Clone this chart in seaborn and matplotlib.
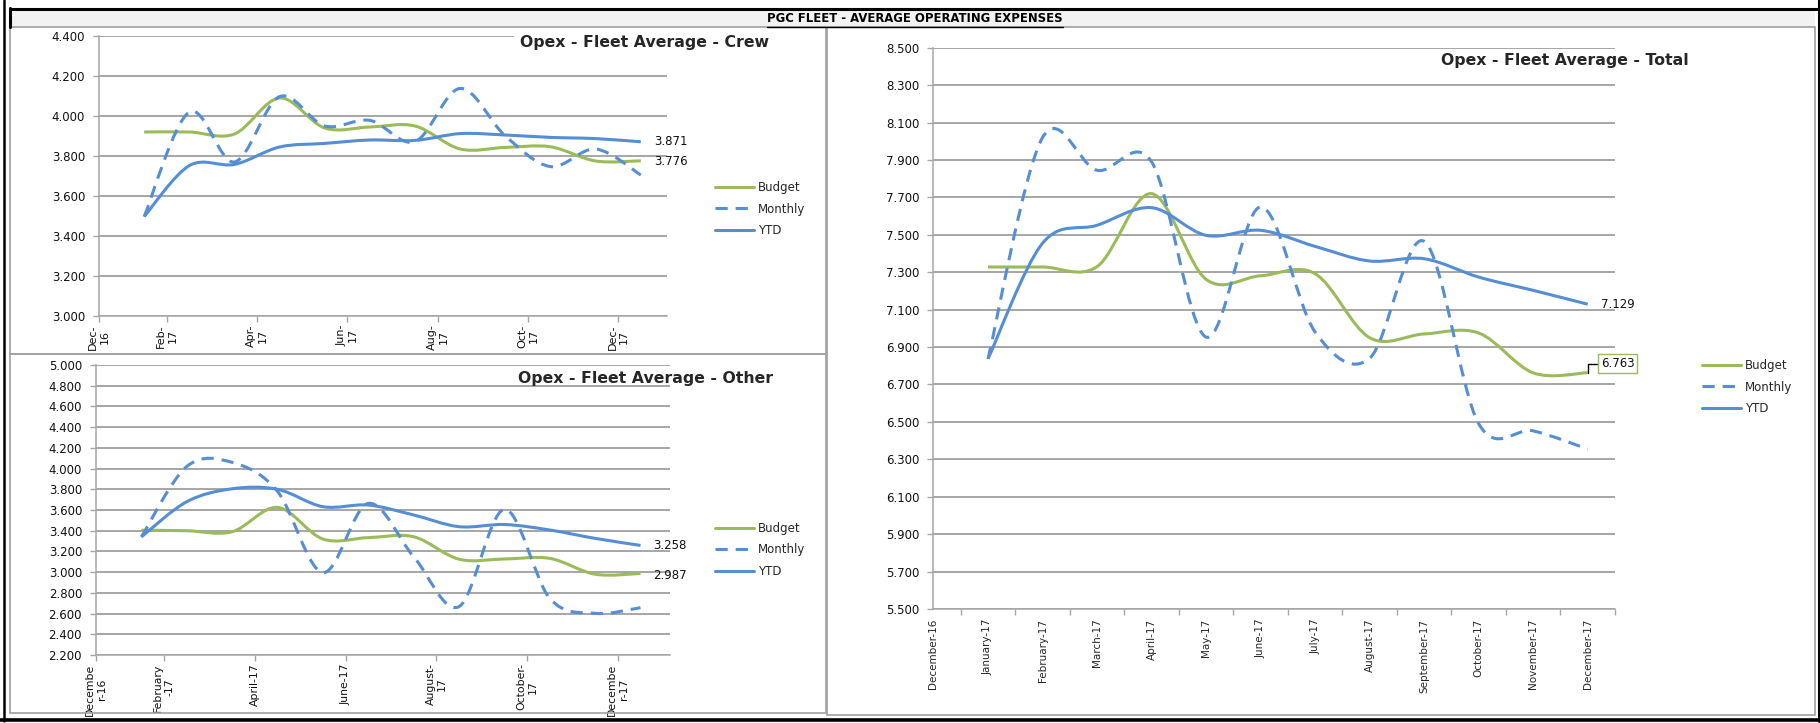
import numpy as np
import pandas as pd
import seaborn as sns
import matplotlib.pyplot as plt
from matplotlib.path import Path
from matplotlib.patches import PathPatch, Rectangle
from matplotlib.lines import Line2D
from matplotlib.transforms import Affine2D

sns.set_style("white")
plt.rcParams["font.family"] = ["DejaVu Sans"]

W, H = 1820, 723

# month index: 0 = December-16, 1..12 = January-17 .. December-17
months = list(range(1, 13))

crew_budget = [3.920, 3.920, 3.910, 4.090, 3.940, 3.945, 3.950, 3.835, 3.843, 3.846, 3.775, 3.776]
crew_monthly = [3.497, 4.020, 3.770, 4.097, 3.950, 3.978, 3.872, 4.138, 3.900, 3.747, 3.835, 3.705]
crew_ytd = [3.497, 3.752, 3.758, 3.845, 3.863, 3.880, 3.878, 3.912, 3.905, 3.893, 3.887, 3.871]

other_budget = [3.405, 3.400, 3.390, 3.625, 3.320, 3.333, 3.342, 3.125, 3.127, 3.133, 2.980, 2.987]
other_monthly = [3.340, 4.020, 4.060, 3.780, 2.995, 3.664, 3.150, 2.667, 3.606, 2.747, 2.602, 2.657]
other_ytd = [3.340, 3.680, 3.805, 3.800, 3.632, 3.648, 3.552, 3.439, 3.460, 3.407, 3.326, 3.258]

total_budget = [7.328, 7.328, 7.330, 7.720, 7.262, 7.281, 7.292, 6.950, 6.970, 6.975, 6.762, 6.763]
total_monthly = [6.837, 8.020, 7.845, 7.890, 6.953, 7.649, 6.980, 6.840, 7.465, 6.490, 6.452, 6.355]
total_ytd = [6.837, 7.455, 7.551, 7.645, 7.497, 7.524, 7.438, 7.360, 7.372, 7.274, 7.203, 7.129]

crew_xlabels = ["Dec-\n16", "Feb-\n17", "Apr-\n17", "Jun-\n17", "Aug-\n17", "Oct-\n17", "Dec-\n17"]
other_xlabels = ["Decembe\nr-16", "February\n-17", "April-17", "June-17", "August-\n17",
                 "October-\n17", "Decembe\nr-17"]
total_xlabels = ["December-16", "January-17", "February-17", "March-17", "April-17", "May-17",
                 "June-17", "July-17", "August-17", "September-17", "October-17",
                 "November-17", "December-17"]
series_names = ["Budget", "Monthly", "YTD"]

GREEN = "#9BBB59"
BLUE = "#558ED5"
GRID = "#A6A6A6"
BORDER = "#A0A0A0"
LW = 2.2
STYLES = {
    "Budget": dict(color=GREEN, linestyle="-"),
    "Monthly": dict(color=BLUE, linestyle=(0, (4, 2.6))),
    "YTD": dict(color=BLUE, linestyle="-"),
}

fig = plt.figure(figsize=(W / 100, H / 100), dpi=100, facecolor="white")
# pixel coordinates, origin top-left
px = Affine2D().scale(1 / W, -1 / H).translate(0, 1) + fig.transFigure


def add_axes_px(left, top, right, bottom):
    return fig.add_axes([left / W, 1 - bottom / H, (right - left) / W, (bottom - top) / H])


def smooth_line(ax, line, style):
    # replace the straight polyline by an Excel-like smoothed bezier through the same points
    pts = line.get_xydata()
    n = len(pts)
    verts = [pts[0]]
    codes = [Path.MOVETO]
    for i in range(n - 1):
        p0, p1 = pts[max(i - 1, 0)], pts[i]
        p2, p3 = pts[i + 1], pts[min(i + 2, n - 1)]
        verts += [p1 + (p2 - p0) / 6, p2 - (p3 - p1) / 6, p2]
        codes += [Path.CURVE4] * 3
    patch = PathPatch(Path(verts, codes), facecolor="none", edgecolor=style["color"],
                      linewidth=LW, linestyle=style["linestyle"], capstyle="butt",
                      joinstyle="round", zorder=line.get_zorder())
    line.remove()
    ax.add_patch(patch)


def draw_series(ax, values):
    df = pd.DataFrame({"month": months, **dict(zip(series_names, values))})
    for name in series_names:
        sns.lineplot(data=df, x="month", y=name, ax=ax, linewidth=LW, **STYLES[name])
        smooth_line(ax, ax.lines[-1], STYLES[name])


def style_axes(ax, ylim, ystep, xsize):
    ax.set_ylim(*ylim)
    ax.set_yticks(np.arange(ylim[0], ylim[1] + ystep / 2, ystep))
    ax.yaxis.set_major_formatter(plt.FuncFormatter(lambda v, p: f"{v:.3f}"))
    ax.yaxis.grid(True, color=GRID, linewidth=1.4)
    ax.xaxis.grid(False)
    ax.set_axisbelow(True)
    for side in ["top", "right"]:
        ax.spines[side].set_visible(False)
    for side in ["left", "bottom"]:
        ax.spines[side].set_color(GRID)
        ax.spines[side].set_linewidth(1.1)
    ax.tick_params(axis="y", left=True, length=4, width=1, color=GRID, pad=6,
                   labelsize=8.5, labelcolor="#111111")
    ax.tick_params(axis="x", bottom=True, length=4, width=1, color=GRID, pad=2,
                   labelsize=xsize, labelcolor="#111111")
    ax.set_xlabel("")
    ax.set_ylabel("")


def add_legend(ax, x, y):
    handles = [Line2D([], [], linewidth=LW, **STYLES[n]) for n in series_names]
    ax.legend(handles, series_names, loc="center left", bbox_to_anchor=(x / W, 1 - y / H),
              bbox_transform=fig.transFigure, frameon=False, fontsize=8.5, handlelength=3.3,
              handletextpad=0.35, labelspacing=0.75, borderpad=0, borderaxespad=0)


def end_label(ax, value, dx=13, dy=0, **kw):
    return ax.annotate(f"{value:.3f}", xy=(months[-1], value), xytext=(dx, dy),
                       textcoords="offset pixels", ha="left", va="center", fontsize=8.5,
                       color="#111111", **kw)


# ---- frames -------------------------------------------------------------
fig.add_artist(Rectangle((10, 9), 1805, 18, transform=px, facecolor="#F2F2F2",
                         edgecolor="none", zorder=0))
for (x0, y0, w, h) in [(10, 27, 816, 327), (10, 354, 816, 359), (827, 27, 988, 688)]:
    fig.add_artist(Rectangle((x0, y0), w, h, transform=px, facecolor="none",
                             edgecolor=BORDER, linewidth=1.2, zorder=1))
for xs, ys, lw in [([10, 1818], [8.5, 8.5], 2.2), ([10, 10], [8, 27], 2.2),
                   ([4, 4], [0, 721], 1.8), ([1818.5, 1818.5], [0, 721], 2.2),
                   ([0, 1820], [719.5, 719.5], 2.6)]:
    fig.add_artist(Line2D(xs, ys, transform=px, color="black", linewidth=lw, zorder=5))

header = fig.text(915 / W, 1 - 19 / H, "PGC FLEET - AVERAGE OPERATING EXPENSES", ha="center",
                  va="center", fontsize=8.4, fontweight="bold", color="black")

# ---- crew ---------------------------------------------------------------
ax_crew = add_axes_px(99, 36, 667, 316)
draw_series(ax_crew, [crew_budget, crew_monthly, crew_ytd])
style_axes(ax_crew, (3.0, 4.4), 0.2, 8)
ax_crew.set_xlim(0, 12.58)
ax_crew.set_xticks([0, 1.5, 3.5, 5.5, 7.5, 9.5, 11.5])
ax_crew.set_xticklabels(crew_xlabels, rotation=90, ha="center", va="top", multialignment="center")
add_legend(ax_crew, 715, 209)
end_label(ax_crew, crew_ytd[-1])
end_label(ax_crew, crew_budget[-1], dy=-1)
fig.text(644 / W, 1 - 43 / H, "Opex - Fleet Average - Crew", ha="center", va="center",
         fontsize=11.3, fontweight="bold",
         bbox=dict(facecolor="white", edgecolor="none", pad=4), zorder=4)

# ---- other --------------------------------------------------------------
ax_other = add_axes_px(96, 365, 670, 655)
draw_series(ax_other, [other_budget, other_monthly, other_ytd])
style_axes(ax_other, (2.2, 5.0), 0.2, 7.8)
ax_other.set_xlim(0, 12.65)
ax_other.set_xticks([0, 1.5, 3.5, 5.5, 7.5, 9.5, 11.5])
ax_other.set_xticklabels(other_xlabels, rotation=90, ha="center", va="top",
                         multialignment="center")
add_legend(ax_other, 715, 550)
end_label(ax_other, other_ytd[-1])
end_label(ax_other, other_budget[-1], dy=-2)
fig.text(646 / W, 1 - 378 / H, "Opex - Fleet Average - Other", ha="center", va="center",
         fontsize=11.3, fontweight="bold")

# ---- total --------------------------------------------------------------
ax_total = add_axes_px(933.5, 47.7, 1615, 609)
draw_series(ax_total, [total_budget, total_monthly, total_ytd])
style_axes(ax_total, (5.5, 8.5), 0.2, 7.5)
ax_total.set_xlim(0, 12.5)
ax_total.set_xticks(np.arange(0.5, 13, 1))
ax_total.set_xticklabels([])
ax_total.set_xticks(range(len(total_xlabels)), minor=True)
ax_total.set_xticklabels(total_xlabels, minor=True, rotation=90, ha="center", va="top")
ax_total.tick_params(axis="x", which="minor", length=0, pad=7, labelsize=7.5)
add_legend(ax_total, 1702, 387)
end_label(ax_total, total_ytd[-1])
end_label(ax_total, total_budget[-1], dy=9,
          bbox=dict(boxstyle="square,pad=0.25", facecolor="white", edgecolor=GREEN, linewidth=1),
          arrowprops=dict(arrowstyle="-", color="black", linewidth=1, shrinkA=0, shrinkB=0,
                          connectionstyle="angle,angleA=0,angleB=90,rad=0"))
fig.text(1565 / W, 1 - 61 / H, "Opex - Fleet Average - Total", ha="center", va="center",
         fontsize=11.3, fontweight="bold")

# underline the header text
fig.canvas.draw()
bb = header.get_window_extent().transformed(fig.transFigure.inverted())
fig.add_artist(Line2D([bb.x0, bb.x1], [bb.y0 - 0.002, bb.y0 - 0.002], transform=fig.transFigure,
                      color="black", linewidth=1))

fig.savefig("out.png", dpi=100, facecolor="white")
